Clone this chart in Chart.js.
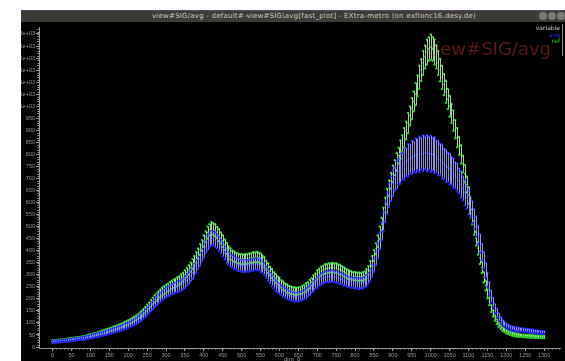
<!DOCTYPE html>
<html>
<head>
<meta charset="utf-8">
<script src="https://cdn.jsdelivr.net/npm/chart.js@4.4.1/dist/chart.umd.min.js"></script>
<style>
    html, body { margin: 0; padding: 0; background: #fff; width: 565px; height: 361px; overflow: hidden; }
    .titlebar { position: absolute; left: 21px; top: 10px; width: 544px; height: 12px; background: #3c3b37; border-top: 1px solid #54486a; box-sizing: border-box; }
    .titlebar span { position: absolute; left: 131px; top: 1px; font: 7px 'DejaVu Sans', sans-serif; letter-spacing: 0.23px; color: #cdc9c1; white-space: nowrap; }
    .btn { position: absolute; top: 1px; width: 8px; height: 8px; border-radius: 50%; background: #7a7975; }
    .plot { position: absolute; left: 21px; top: 22px; width: 544px; height: 339px; background: #000; }
</style>
</head>
<body>
<div class="titlebar">
    <span>view#SIG/avg - default#-view#SIG\avg[fast_plot] - EXtra-metro (on exflonc16.desy.de)</span>
    <div class="btn" style="left:518px"></div>
    <div class="btn" style="left:527px"></div>
    <div class="btn" style="left:536px"></div>
</div>
<div class="plot"><canvas id="sigChart"></canvas></div>

<script>
// ---- data ----
const dim0 = [
    0, 5, 10, 15, 20, 25, 30, 35, 40, 45, 50, 55, 60, 65, 70, 75, 80, 85, 90, 95,
    100, 105, 110, 115, 120, 125, 130, 135, 140, 145, 150, 155, 160, 165, 170, 175, 180, 185, 190, 195,
    200, 205, 210, 215, 220, 225, 230, 235, 240, 245, 250, 255, 260, 265, 270, 275, 280, 285, 290, 295,
    300, 305, 310, 315, 320, 325, 330, 335, 340, 345, 350, 355, 360, 365, 370, 375, 380, 385, 390, 395,
    400, 405, 410, 415, 420, 425, 430, 435, 440, 445, 450, 455, 460, 465, 470, 475, 480, 485, 490, 495,
    500, 505, 510, 515, 520, 525, 530, 535, 540, 545, 550, 555, 560, 565, 570, 575, 580, 585, 590, 595,
    600, 605, 610, 615, 620, 625, 630, 635, 640, 645, 650, 655, 660, 665, 670, 675, 680, 685, 690, 695,
    700, 705, 710, 715, 720, 725, 730, 735, 740, 745, 750, 755, 760, 765, 770, 775, 780, 785, 790, 795,
    800, 805, 810, 815, 820, 825, 830, 835, 840, 845, 850, 855, 860, 865, 870, 875, 880, 885, 890, 895,
    900, 905, 910, 915, 920, 925, 930, 935, 940, 945, 950, 955, 960, 965, 970, 975, 980, 985, 990, 995,
    1000, 1005, 1010, 1015, 1020, 1025, 1030, 1035, 1040, 1045, 1050, 1055, 1060, 1065, 1070, 1075, 1080, 1085, 1090, 1095,
    1100, 1105, 1110, 1115, 1120, 1125, 1130, 1135, 1140, 1145, 1150, 1155, 1160, 1165, 1170, 1175, 1180, 1185, 1190, 1195,
    1200, 1205, 1210, 1215, 1220, 1225, 1230, 1235, 1240, 1245, 1250, 1255, 1260, 1265, 1270, 1275, 1280, 1285, 1290, 1295, 1300
];

const avgMean = [
    22, 22, 23, 23, 24, 25, 26, 27, 28, 29, 30, 31, 32, 33, 34, 35, 36, 37, 39, 40,
    42, 44, 46, 48, 50, 52, 54, 56, 58, 60, 63, 65, 68, 70, 73, 75, 78, 81, 84, 87,
    90, 94, 98, 102, 107, 112, 118, 124, 131, 139, 147, 156, 165, 174, 183, 191, 199, 206, 213, 220,
    226, 231, 235, 239, 243, 246, 249, 252, 255, 261, 268, 276, 285, 296, 308, 321, 335, 350, 365, 382,
    400, 417, 432, 444, 452, 450, 445, 437, 428, 416, 404, 390, 377, 368, 360, 355, 350, 346, 342, 339,
    337, 336, 336, 337, 338, 340, 342, 344, 345, 342, 338, 331, 322, 310, 298, 286, 275, 264, 254, 247,
    241, 235, 229, 224, 219, 215, 212, 210, 208, 208, 208, 210, 213, 217, 222, 229, 236, 244, 252, 260,
    268, 275, 282, 286, 290, 292, 293, 294, 294, 293, 291, 288, 285, 282, 278, 275, 271, 269, 268, 266,
    265, 264, 263, 264, 265, 269, 275, 285, 298, 317, 340, 368, 400, 440, 480, 520, 560, 596, 630, 656,
    680, 698, 714, 728, 740, 750, 760, 768, 775, 781, 787, 791, 795, 798, 800, 803, 805, 806, 805, 804,
    802, 800, 797, 791, 785, 778, 770, 761, 752, 746, 740, 731, 722, 713, 704, 690, 675, 658, 640, 621,
    600, 581, 560, 531, 500, 466, 430, 395, 360, 320, 280, 243, 210, 184, 160, 141, 125, 111, 100, 94,
    88, 84, 80, 78, 76, 74, 73, 72, 71, 70, 69, 68, 67, 66, 65, 64, 63, 62, 61, 60, 60
];

const avgErr = [
    4, 4, 4, 4, 4, 4, 4, 4, 5, 5, 5, 5, 5, 5, 5, 5, 6, 6, 6, 6,
    6, 7, 7, 7, 7, 7, 7, 8, 8, 8, 8, 9, 9, 9, 9, 10, 10, 10, 10, 11,
    11, 10, 11, 12, 12, 12, 13, 14, 14, 15, 15, 16, 16, 17, 17, 18, 18, 19, 19, 20,
    20, 19, 21, 20, 21, 20, 22, 21, 22, 21, 23, 22, 24, 23, 25, 24, 26, 25, 27, 26,
    28, 26, 29, 27, 30, 28, 30, 28, 29, 27, 28, 26, 27, 25, 26, 24, 26, 24, 25, 23,
    25, 23, 25, 23, 25, 23, 25, 23, 25, 23, 25, 23, 24, 22, 23, 21, 22, 20, 21, 19,
    21, 19, 20, 18, 20, 18, 19, 17, 19, 17, 19, 17, 19, 17, 20, 18, 20, 18, 21, 19,
    22, 20, 23, 21, 23, 21, 24, 22, 24, 22, 24, 22, 23, 21, 23, 21, 22, 20, 22, 20,
    22, 20, 22, 20, 22, 21, 23, 22, 24, 25, 27, 29, 31, 34, 36, 39, 42, 45, 48, 50,
    53, 49, 57, 52, 61, 55, 64, 58, 67, 60, 69, 62, 71, 64, 73, 66, 74, 67, 75, 68,
    75, 68, 74, 67, 72, 65, 70, 63, 67, 61, 64, 58, 61, 55, 58, 52, 55, 50, 52, 47,
    49, 44, 46, 41, 42, 38, 38, 34, 34, 30, 29, 26, 24, 21, 19, 17, 15, 13, 12, 11,
    10, 9, 9, 8, 8, 8, 8, 7, 7, 7, 7, 7, 7, 7, 7, 6, 6, 6, 6, 6, 6
];

const refMean = [
    24, 24, 25, 26, 27, 28, 29, 30, 31, 32, 33, 34, 35, 36, 37, 38, 40, 41, 43, 45,
    47, 49, 51, 53, 56, 58, 61, 63, 66, 68, 71, 73, 76, 79, 82, 85, 88, 91, 95, 98,
    102, 106, 110, 115, 120, 126, 132, 139, 146, 154, 163, 172, 182, 191, 200, 208, 216, 223, 230, 236,
    242, 247, 252, 257, 262, 267, 272, 277, 283, 291, 300, 310, 320, 332, 345, 358, 372, 388, 405, 422,
    440, 458, 475, 487, 493, 490, 485, 476, 465, 453, 440, 425, 410, 398, 388, 381, 376, 372, 368, 366,
    365, 365, 365, 366, 368, 370, 372, 373, 374, 372, 368, 361, 352, 340, 328, 316, 305, 294, 285, 277,
    270, 262, 255, 249, 243, 239, 236, 234, 232, 232, 233, 235, 238, 243, 248, 254, 262, 271, 280, 290,
    300, 308, 315, 320, 324, 326, 328, 329, 330, 329, 328, 325, 322, 318, 313, 308, 303, 300, 297, 295,
    294, 293, 292, 292, 293, 297, 305, 318, 338, 357, 380, 408, 440, 475, 510, 550, 590, 625, 660, 690,
    720, 745, 770, 795, 820, 845, 870, 900, 930, 960, 990, 1020, 1050, 1085, 1120, 1150, 1180, 1205, 1225, 1238,
    1245, 1238, 1225, 1205, 1180, 1150, 1120, 1090, 1060, 1030, 1000, 970, 940, 905, 870, 835, 800, 760, 720, 675,
    630, 585, 540, 495, 450, 410, 370, 330, 290, 255, 220, 190, 160, 140, 120, 105, 92, 83, 75, 69,
    64, 60, 57, 54, 52, 50, 49, 48, 47, 46, 46, 45, 45, 44, 44, 43, 43, 42, 42, 42, 42
];

const refErr = [
    4, 4, 4, 4, 4, 4, 4, 4, 5, 5, 5, 5, 5, 5, 5, 5, 5, 5, 6, 6,
    6, 6, 6, 6, 6, 6, 7, 7, 7, 7, 7, 7, 8, 8, 8, 8, 8, 8, 9, 9,
    9, 9, 10, 10, 10, 10, 11, 11, 12, 12, 13, 13, 14, 14, 15, 15, 16, 16, 17, 17,
    17, 16, 18, 17, 18, 17, 18, 17, 19, 18, 19, 18, 20, 19, 21, 20, 22, 21, 23, 22,
    24, 22, 25, 23, 26, 24, 25, 23, 25, 23, 24, 22, 23, 21, 22, 20, 21, 19, 21, 19,
    21, 19, 21, 19, 21, 19, 22, 20, 22, 20, 21, 19, 21, 19, 20, 18, 19, 17, 18, 16,
    18, 16, 17, 15, 17, 15, 16, 14, 16, 14, 16, 14, 16, 14, 17, 15, 17, 15, 18, 16,
    19, 17, 19, 17, 20, 18, 20, 18, 20, 18, 20, 18, 20, 18, 19, 17, 19, 17, 18, 16,
    18, 16, 18, 16, 18, 17, 19, 18, 20, 21, 22, 23, 24, 26, 27, 29, 30, 31, 32, 33,
    34, 31, 36, 33, 38, 35, 40, 37, 42, 39, 44, 41, 46, 43, 48, 45, 50, 47, 52, 49,
    53, 49, 52, 48, 50, 46, 48, 44, 46, 42, 44, 40, 42, 38, 40, 37, 38, 35, 36, 33,
    34, 31, 31, 29, 28, 26, 25, 23, 22, 20, 18, 16, 14, 13, 11, 10, 9, 8, 8, 7,
    7, 6, 6, 6, 6, 6, 6, 5, 5, 5, 5, 5, 5, 5, 5, 5, 5, 5, 5, 5, 5
];

const xTickValues = [0, 50, 100, 150, 200, 250, 300, 350, 400, 450, 500, 550, 600, 650,
    700, 750, 800, 850, 900, 950, 1000, 1050, 1100, 1150, 1200, 1250, 1300];
const yTickValues = [0, 50, 100, 150, 200, 250, 300, 350, 400, 450, 500, 550, 600, 650,
    700, 750, 800, 850, 900, 950, 1000, 1050, 1100, 1150, 1200, 1250, 1300];

const seriesNames = ['avg', 'ref'];
const seriesColors = ['#2a2aff', '#2ed12e'];
const barColors = ['rgba(160,160,250,0.9)', 'rgba(180,228,180,0.9)'];

// ---- helpers ----
const series = [
    { mean: avgMean, err: avgErr },
    { mean: refMean, err: refErr }
];

function pts(arr) {
    return dim0.map((x, i) => ({ x: x, y: arr[i] }));
}

function fmtY(v) {
    if (v >= 1000) return (v / 1000) + 'e+03';
    return String(v);
}

const TICK_COLOR = '#9a9a9a';
const TICK_FONT = { family: 'Liberation Sans', size: 5.5 };

// error bars drawn before the first dataset of each series
const errorBars = {
    id: 'errorBars',
    beforeDatasetDraw(chart, args) {
        const ds = chart.data.datasets[args.index];
        if (ds.errFor === undefined) return;
        const s = series[ds.errFor];
        const xs = chart.scales.x, ys = chart.scales.y, ctx = chart.ctx;
        const a = chart.chartArea;
        ctx.save();
        ctx.beginPath();
        ctx.rect(a.left, a.top, a.right - a.left, a.bottom - a.top);
        ctx.clip();
        ctx.strokeStyle = barColors[ds.errFor];
        ctx.lineWidth = 1;
        ctx.beginPath();
        dim0.forEach((x, i) => {
            const px = Math.round(xs.getPixelForValue(x)) + 0.5;
            ctx.moveTo(px, ys.getPixelForValue(s.mean[i] - s.err[i]));
            ctx.lineTo(px, ys.getPixelForValue(s.mean[i] + s.err[i]));
        });
        ctx.stroke();
        ctx.restore();
    }
};

// minor ticks, watermark title, legend, axis name
const decorations = {
    id: 'decorations',
    beforeDatasetsDraw(chart) {
        const ctx = chart.ctx;
        ctx.save();
        ctx.font = '18px "DejaVu Sans"';
        ctx.fillStyle = '#5a1818';
        ctx.textAlign = 'right';
        ctx.textBaseline = 'alphabetic';
        ctx.fillText('view#SIG/avg', 530, 33);
        ctx.restore();
    },
    afterDraw(chart) {
        const ctx = chart.ctx;
        const xs = chart.scales.x, ys = chart.scales.y, a = chart.chartArea;
        ctx.save();
        ctx.strokeStyle = TICK_COLOR;
        ctx.lineWidth = 1;
        ctx.beginPath();
        for (let v = 0; v <= 1340; v += 10) {
            const px = Math.round(xs.getPixelForValue(v)) + 0.5;
            ctx.moveTo(px, a.bottom);
            ctx.lineTo(px, a.bottom + 1.5);
        }
        for (let v = 0; v <= 1320; v += 10) {
            const py = Math.round(ys.getPixelForValue(v)) + 0.5;
            ctx.moveTo(a.left - 1.5, py);
            ctx.lineTo(a.left, py);
        }
        ctx.stroke();

        // axis name
        ctx.font = '6px "Liberation Sans"';
        ctx.fillStyle = TICK_COLOR;
        ctx.textAlign = 'left';
        ctx.textBaseline = 'top';
        ctx.fillText('dim_0', 263, 334);

        // legend
        ctx.font = '6px "DejaVu Sans"';
        ctx.textAlign = 'right';
        ctx.textBaseline = 'middle';
        ctx.fillStyle = '#c8c8c8';
        ctx.fillText('variable', 539, 6);
        seriesNames.forEach((n, i) => {
            ctx.fillStyle = seriesColors[i];
            ctx.fillText(n, 539, 13 + i * 6);
        });
        ctx.strokeStyle = '#8a8a8a';
        ctx.beginPath();
        ctx.moveTo(541.5, 2);
        ctx.lineTo(541.5, 34);
        ctx.stroke();
        ctx.restore();
    }
};

const datasets = [];
series.forEach((s, k) => {
    const lo = s.mean.map((m, i) => m - s.err[i]);
    const hi = s.mean.map((m, i) => m + s.err[i]);
    datasets.push({ label: seriesNames[k] + ' lo', data: pts(lo), errFor: k,
        pointRadius: 1.2, pointBackgroundColor: seriesColors[k], pointBorderWidth: 0 });
    datasets.push({ label: seriesNames[k] + ' hi', data: pts(hi),
        pointRadius: 1.2, pointBackgroundColor: seriesColors[k], pointBorderWidth: 0 });
    datasets.push({ label: seriesNames[k], data: pts(s.mean),
        pointRadius: 0.8, pointBackgroundColor: seriesColors[k], pointBorderWidth: 0 });
});

new Chart(document.getElementById('sigChart'), {
    type: 'scatter',
    data: { datasets: datasets },
    options: {
        responsive: true, maintainAspectRatio: false, animation: false,
        devicePixelRatio: 1,
        layout: { padding: { top: 5, right: 5, left: 0, bottom: 0 } },
        plugins: { legend: { display: false }, tooltip: { enabled: false } },
        scales: {
            x: {
                type: 'linear', min: -36, max: 1342,
                afterFit: (scale) => { scale.height = 13; },
                afterBuildTicks: (scale) => { scale.ticks = xTickValues.map(v => ({ value: v })); },
                grid: { drawOnChartArea: false, tickLength: 3, color: TICK_COLOR },
                border: { color: TICK_COLOR },
                ticks: { color: TICK_COLOR, font: TICK_FONT, padding: 1, maxRotation: 0, autoSkip: false,
                    callback: (v) => String(v) }
            },
            y: {
                type: 'linear', min: -4, max: 1329,
                afterFit: (scale) => { scale.width = 18; },
                afterBuildTicks: (scale) => { scale.ticks = yTickValues.map(v => ({ value: v })); },
                grid: { drawOnChartArea: false, tickLength: 3, color: TICK_COLOR },
                border: { color: TICK_COLOR },
                ticks: { color: TICK_COLOR, font: TICK_FONT, padding: 1, autoSkip: false, callback: (v) => fmtY(v) }
            }
        }
    },
    plugins: [errorBars, decorations]
});
</script>
</body>
</html>
